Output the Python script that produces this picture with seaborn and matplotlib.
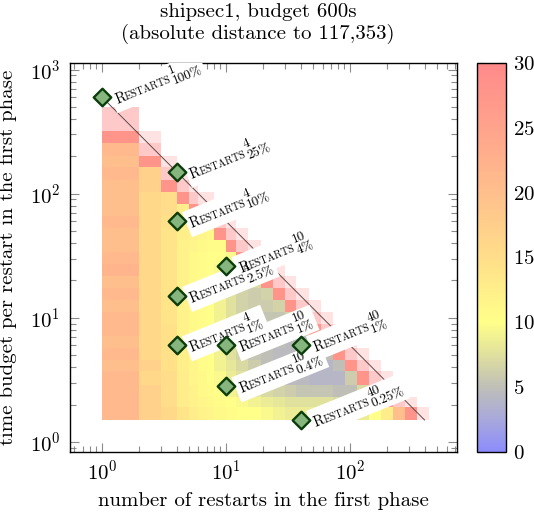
import numpy as np
import matplotlib
matplotlib.use("Agg")
import matplotlib.pyplot as plt
import seaborn as sns
from matplotlib.colors import LinearSegmentedColormap, Normalize
from matplotlib.cm import ScalarMappable
from matplotlib.patches import Polygon
from matplotlib.transforms import IdentityTransform
from matplotlib.font_manager import FontProperties
from matplotlib.ticker import LogLocator, NullFormatter

sns.set_theme(style="white")
plt.rcParams["font.family"] = ["cmr10", "DejaVu Serif"]
plt.rcParams["mathtext.fontset"] = "cm"
plt.rcParams["axes.formatter.use_mathtext"] = True
plt.rcParams["axes.unicode_minus"] = False
plt.rcParams["text.color"] = "black"
plt.rcParams["axes.labelcolor"] = "black"
plt.rcParams["xtick.color"] = "black"
plt.rcParams["ytick.color"] = "black"

# ---------------- data ----------------
LP = 35.0   # light pink cells (above colour range)
VP = 45.0   # very light pink cells

# cell edges: number of restarts (x) and time budget per restart (y)
restart_edges = [1, 2, 3, 4, 5, 6, 7, 8, 10, 12, 15, 19, 24, 30, 37, 47, 58,
                 73, 91, 114, 143, 179, 224, 279, 349, 437]
budget_edges = [1.5, 1.9, 2.3, 2.9, 3.7, 4.6, 5.7, 7.2, 8.9, 11.2, 14, 17.5,
                21.8, 27.3, 34.1, 42.6, 53.3, 66.6, 83.3, 104, 130, 163, 203,
                254, 318, 397, 497]

# absolute distance per column, listed from the lowest budget upward
distance_by_column = [
    [21, 21, 21, 21, 20, 21, 20, 21, 21, 20, 21, 20, 22, 21, 20, 20, 21, 20, 20, 20, 21, 20, 21, 28, LP, LP],
    [17, 17, 17, 16, 17, 16, 16, 16, 16, 16, 16, 16, 16, 16, 16, 16, 16, 16, 16, 17, 17, 28, LP, VP],
    [16, 15, 15, 15, 14.5, 14.5, 14.5, 14.5, 14, 14, 14, 14, 14, 14, 14, 14, 14.5, 15, 15, 28, LP, VP],
    [14, 13, 13, 13, 12.5, 12.5, 12.5, 12, 12, 12, 12, 12, 12, 12, 12, 12.5, 13, 13, 28, LP, VP],
    [13, 12, 12, 11.5, 11.5, 11, 11, 11, 11, 11, 11, 11, 11, 11, 11.5, 12, 12.5, 28, LP, VP],
    [12, 11.5, 11, 11, 10.5, 10.5, 10.5, 10.5, 10.5, 10.5, 10.5, 10.5, 10.5, 10.5, 11, 11.5, 28, LP, VP],
    [11.5, 11, 10.5, 10, 10, 10, 10, 10, 10, 10, 10, 10, 10, 10, 10.5, 11, 28, LP, VP],
    [11, 10.5, 10, 9.5, 9, 9, 9, 9, 9, 9, 9, 9.5, 9.5, 10, 10.5, 28, LP, VP],
    [10.5, 10, 9, 8.5, 8, 7.5, 7.5, 7.5, 7.5, 7.5, 7.5, 8, 8.5, 9.5, 28, LP, VP],
    [10, 9.5, 8.5, 7.5, 7, 6.5, 6.5, 6.5, 6.5, 6.5, 6.5, 7, 8, 28, LP, VP],
    [10, 9, 8, 7, 6, 5.5, 5.5, 5.5, 6, 6, 6, 7, 28, LP, VP],
    [9.5, 8.5, 7, 5.5, 5, 5, 5, 5, 5.5, 6, 6.5, 28, LP, VP],
    [9, 8, 6.5, 5, 4.5, 4.5, 5, 5, 5.5, 6.5, 28, LP, VP],
    [8.5, 7.5, 6, 4.5, 4.5, 4.5, 4.5, 5, 6.5, 28, LP, VP],
    [8.5, 7.5, 5.5, 4.5, 4, 4, 4.5, 6, 28, LP, VP],
    [8.5, 7.5, 5.5, 4, 4, 4.5, 5.5, 28, LP, VP],
    [8, 7.5, 5.5, 4, 4, 5, 28, LP, VP],
    [8, 7, 5, 4, 5, 28, LP, VP],
    [7.5, 7, 5, 6, 28, LP, VP],
    [8.5, 8, 7, 28, LP, VP],
    [10, 10, 28, LP, VP],
    [13, 28, LP, VP],
    [20, LP, VP],
    [28, VP],
    [VP],
]

config_restarts = [1, 4, 4, 10, 4, 4, 10, 10, 40, 40]
config_budget = [600, 150, 60, 26, 15, 6, 6, 2.8, 6, 1.5]
config_sup = ["1", "4", "4", "10", "4", "4", "10", "10", "40", "40"]
config_sub = ["100%", "25%", "10%", "4%", "2.5%", "1%", "1%", "0.4%", "1%", "0.25%"]

line_restarts = [1, 400]
line_budget = [600, 1.5]

cbar_ticks = [0, 5, 10, 15, 20, 25, 30]

# ---------------- figure ----------------
W, H = 534, 512
fig = plt.figure(figsize=(W / 100, H / 100), dpi=100)
ax = fig.add_axes([70 / W, 60 / H, 387 / W, 389 / H])
ax.set_xscale("log")
ax.set_yscale("log")

Z = np.full((len(budget_edges) - 1, len(restart_edges) - 1), np.nan)
for c, col in enumerate(distance_by_column):
    Z[:len(col), c] = col

cmap = LinearSegmentedColormap.from_list("dist", [
    (0 / 30, (0.55, 0.55, 0.99)),
    (2.5 / 30, (0.66, 0.66, 0.86)),
    (5 / 30, (0.75, 0.75, 0.72)),
    (7.5 / 30, (0.88, 0.88, 0.62)),
    (10 / 30, (1.0, 1.0, 0.54)),
    (15 / 30, (1.0, 0.87, 0.54)),
    (20 / 30, (1.0, 0.75, 0.55)),
    (25 / 30, (1.0, 0.64, 0.55)),
    (30 / 30, (1.0, 0.54, 0.54)),
])
norm = Normalize(0, 30)
main = np.ma.masked_where(~(Z <= 30), Z)
over = np.ma.masked_where(~(Z > 30), Z)
ax.pcolormesh(restart_edges, budget_edges, main, cmap=cmap, norm=norm,
              shading="flat", zorder=1, linewidth=0, antialiased=False)
over_cmap = LinearSegmentedColormap.from_list("over", [(1, 0.79, 0.79), (1, 0.885, 0.885)])
ax.pcolormesh(restart_edges, budget_edges, over, cmap=over_cmap, norm=Normalize(LP, VP),
              shading="flat", zorder=1, linewidth=0, antialiased=False)

sns.lineplot(x=line_restarts, y=line_budget, ax=ax, color="#5b4b4b",
             linewidth=0.7, zorder=2, legend=False)

ax.set_xlim(0.552, 729)
ax.set_ylim(0.83, 1130)

for axis in (ax.xaxis, ax.yaxis):
    axis.set_major_locator(LogLocator(base=10, numticks=10))
    axis.set_minor_locator(LogLocator(base=10, subs=np.arange(2, 10), numticks=30))
    axis.set_minor_formatter(NullFormatter())
ax.tick_params(which="both", direction="in", top=True, right=True, bottom=True,
               left=True, color="#8c8c8c", width=0.8, labelcolor="black")
ax.tick_params(which="major", length=6.5, labelsize=15)
ax.tick_params(which="minor", length=4.3)
ax.tick_params(axis="x", which="major", pad=5)
ax.tick_params(axis="y", which="major", pad=7)
for s in ax.spines.values():
    s.set_color("black")
    s.set_linewidth(1.0)
ax.grid(False)

ax.set_xlabel("number of restarts in the first phase", fontsize=15)
ax.xaxis.set_label_coords(0.5, -0.1034)
ax.set_ylabel("time budget per restart in the first phase", fontsize=15)
ax.yaxis.set_label_coords(-0.137, 0.5)

fig.text(258 / W, 1 - 17 / H, "shipsec1, budget 600s", ha="center", va="baseline", fontsize=15)
fig.text(258 / W, 1 - 39 / H, "(absolute distance to 117,353)", ha="center", va="baseline", fontsize=15)

# colorbar
cax = fig.add_axes([477 / W, 60 / H, 29 / W, 389 / H])
cb = fig.colorbar(ScalarMappable(norm=norm, cmap=cmap), cax=cax, ticks=cbar_ticks)
cb.outline.set_linewidth(1.0)
cb.outline.set_edgecolor("black")
cax.minorticks_off()
cax.tick_params(direction="in", left=True, right=True, length=4.5, width=0.8,
                color="#8c8c8c", labelsize=15, pad=5, labelcolor="black")

# labels next to the configurations
renderer = fig.canvas.get_renderer()
angle = 22
th = np.deg2rad(angle)
u = np.array([np.cos(th), np.sin(th)])
v = np.array([-np.sin(th), np.cos(th)])
prop_R = FontProperties(family="cmr10", size=10.5)
prop_E = FontProperties(family="cmr10", size=7.4)
prop_X = FontProperties(family="cmr10", size=9.6)


def text_w(s, prop):
    return renderer.get_text_width_height_descent(s, prop, ismath=False)[0]


wR = text_w("R", prop_R)
wE = text_w("ESTARTS", prop_E)
ident = IdentityTransform()
sup_rise, sub_drop = 8.5, 3.5
for n, t, sup, sub in zip(config_restarts, config_budget, config_sup, config_sub):
    wS = max(text_w(sup, prop_X), text_w(sub, prop_X))
    cx, cy = ax.transData.transform((n, t))
    p0 = np.array([cx + 15, cy - 7])
    total = wR + wE + 1 + wS
    corners = [p0 + a * u + b * v for a, b in
               [(-3, -sub_drop - 5), (total + 3, -sub_drop - 5),
                (total + 3, sup_rise + 10), (-3, sup_rise + 10)]]
    poly = Polygon(corners, closed=True, transform=ident, facecolor="white",
                   edgecolor="none", zorder=3)
    ax.add_artist(poly)
    p1 = p0 + wR * u
    p2 = p0 + (wR + wE + 1) * u
    kw = dict(rotation=angle, rotation_mode="anchor", ha="left", va="baseline",
              transform=ident, zorder=4, color="black")
    ax.text(p0[0], p0[1], "R", fontproperties=prop_R, **kw)
    ax.text(p1[0], p1[1], "ESTARTS", fontproperties=prop_E, **kw)
    ps = p2 + sup_rise * v
    pb = p2 - sub_drop * v
    ax.text(ps[0], ps[1], sup, fontproperties=prop_X, **kw)
    ax.text(pb[0], pb[1], sub, fontproperties=prop_X, **kw)

sns.scatterplot(x=config_restarts, y=config_budget, ax=ax, marker="D", s=80,
                color="#86b57e", edgecolor="#0b3d0b", linewidth=1.7, zorder=5,
                legend=False, clip_on=False)

fig.savefig("out.png", dpi=100)
